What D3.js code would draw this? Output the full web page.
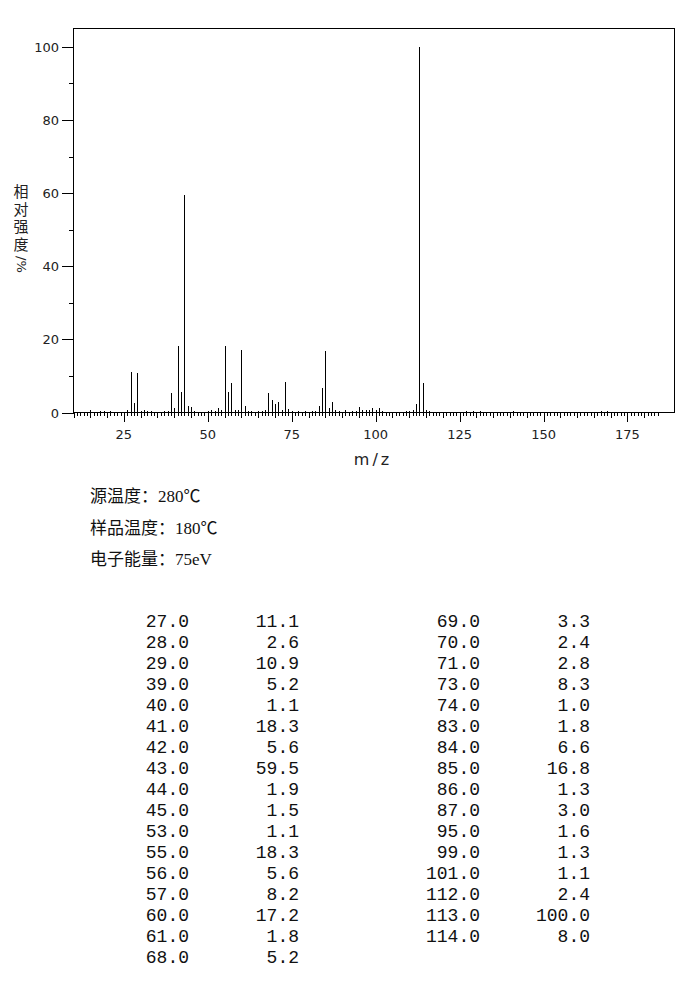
<!DOCTYPE html>
<html>
<head>
<meta charset="utf-8">
<script src="https://cdn.jsdelivr.net/npm/d3@7"></script>
<style>
  body { margin: 0; background: #fff; }
  svg { display: block; }
</style>
</head>
<body>
<div id="chart"></div>
<script>
// peaks listed in the table (m/z, relative intensity %)
var mzValues = [27, 28, 29, 39, 40, 41, 42, 43, 44, 45, 53, 55, 56, 57, 60, 61, 68,
                69, 70, 71, 73, 74, 83, 84, 85, 86, 87, 95, 99, 101, 112, 113, 114];
var intensities = [11.1, 2.6, 10.9, 5.2, 1.1, 18.3, 5.6, 59.5, 1.9, 1.5, 1.1, 18.3, 5.6, 8.2, 17.2, 1.8, 5.2,
                   3.3, 2.4, 2.8, 8.3, 1.0, 1.8, 6.6, 16.8, 1.3, 3.0, 1.6, 1.3, 1.1, 2.4, 100.0, 8.0];

// small peaks (< 1%) seen in the spectrum but not in the table
var minorMz = [15, 18, 19, 21, 26, 30, 31, 32, 33, 37, 38, 46, 50, 51, 52, 54, 58, 59, 62, 63, 65, 66, 67,
               72, 75, 77, 79, 81, 82, 88, 89, 91, 93, 94, 96, 97, 98, 100, 102, 109, 110, 111, 115, 116,
               127, 129, 131, 141, 167, 169];
var minorIntensities = [0.6, 0.5, 0.4, 0.3, 0.8, 0.4, 0.6, 0.4, 0.3, 0.4, 0.5, 0.3, 0.4, 0.6, 0.5, 0.6, 0.8, 0.7, 0.5, 0.3, 0.4, 0.3, 0.8,
                        0.6, 0.5, 0.4, 0.4, 0.5, 0.5, 0.7, 0.4, 0.6, 0.5, 0.5, 0.6, 0.8, 0.6, 0.7, 0.4, 0.4, 0.5, 0.7, 0.7, 0.3,
                        0.4, 0.5, 0.4, 0.4, 0.3, 0.3];

var xTickLabels = [25, 50, 75, 100, 125, 150, 175];
var yTickLabels = [0, 20, 40, 60, 80, 100];

var yTitle = "相对强度";
var yTitleUnit = "/%";
var infoLines = ["源温度：280℃", "样品温度：180℃", "电子能量：75eV"];

var w = 696, h = 992;
var svg = d3.select("#chart").append("svg")
    .attr("width", w)
    .attr("height", h);

var x = d3.scaleLinear().domain([10, 189]).range([73.5, 674.5]);
var y = d3.scaleLinear().domain([0, 105]).range([412.5, 28.5]);

var plot = svg.append("g").attr("shape-rendering", "crispEdges");

// frame
plot.append("rect")
    .attr("x", x(10))
    .attr("y", y(105))
    .attr("width", x(189) - x(10))
    .attr("height", y(0) - y(105))
    .attr("fill", "none")
    .attr("stroke", "#000")
    .attr("stroke-width", 1);

// x ticks, every 1 unit
var xTicks = d3.range(10, 185);
plot.selectAll("line.xtick")
    .data(xTicks)
    .enter()
    .append("line")
    .attr("class", "xtick")
    .attr("x1", function(d) { return Math.round(x(d)) + 0.5; })
    .attr("x2", function(d) { return Math.round(x(d)) + 0.5; })
    .attr("y1", y(0))
    .attr("y2", function(d) {
        if (d % 25 == 0) return y(0) + 9;
        if (d % 5 == 0) return y(0) + 5;
        return y(0) + 3;
    })
    .attr("stroke", "#000");

// y ticks, every 10
plot.selectAll("line.ytick")
    .data(d3.range(0, 101, 10))
    .enter()
    .append("line")
    .attr("class", "ytick")
    .attr("x1", x(10))
    .attr("x2", function(d) { return d % 20 == 0 ? x(10) - 12 : x(10) - 5; })
    .attr("y1", function(d) { return Math.round(y(d)) + 0.5; })
    .attr("y2", function(d) { return Math.round(y(d)) + 0.5; })
    .attr("stroke", "#000");

// peaks
var peaks = mzValues.map(function(d, i) { return { mz: d, v: intensities[i] }; })
    .concat(minorMz.map(function(d, i) { return { mz: d, v: minorIntensities[i] }; }));

plot.selectAll("line.peak")
    .data(peaks)
    .enter()
    .append("line")
    .attr("class", "peak")
    .attr("x1", function(d) { return Math.round(x(d.mz)) + 0.5; })
    .attr("x2", function(d) { return Math.round(x(d.mz)) + 0.5; })
    .attr("y1", y(0))
    .attr("y2", function(d) { return y(d.v); })
    .attr("stroke", "#000");

// tick labels
svg.selectAll("text.xlab")
    .data(xTickLabels)
    .enter()
    .append("text")
    .attr("class", "xlab")
    .attr("x", function(d) { return x(d); })
    .attr("y", 439)
    .attr("text-anchor", "middle")
    .attr("font-family", "DejaVu Sans")
    .attr("font-size", "13px")
    .attr("fill", "#222")
    .text(function(d) { return d; });

svg.selectAll("text.ylab")
    .data(yTickLabels)
    .enter()
    .append("text")
    .attr("class", "ylab")
    .attr("x", 59)
    .attr("y", function(d) { return y(d) + 5; })
    .attr("text-anchor", "end")
    .attr("font-family", "DejaVu Sans")
    .attr("font-size", "13px")
    .attr("fill", "#222")
    .text(function(d) { return d; });

// axis titles
svg.append("text")
    .attr("x", 373)
    .attr("y", 465)
    .attr("text-anchor", "middle")
    .attr("font-family", "DejaVu Sans")
    .attr("font-size", "16px")
    .attr("letter-spacing", "3px")
    .attr("fill", "#222")
    .text("m/z");

// y title: vertical CJK text, unit rotated underneath
svg.append("text")
    .attr("x", 21)
    .attr("y", 184)
    .attr("style", "writing-mode: vertical-rl;")
    .attr("font-family", "Noto Sans CJK SC")
    .attr("font-size", "15px")
    .attr("letter-spacing", "2.5px")
    .attr("fill", "#222")
    .text(yTitle);

svg.append("text")
    .attr("transform", "translate(17,256) rotate(90)")
    .attr("font-family", "DejaVu Sans")
    .attr("font-size", "13px")
    .attr("fill", "#222")
    .text(yTitleUnit);

// instrument info
svg.selectAll("text.info")
    .data(infoLines)
    .enter()
    .append("text")
    .attr("class", "info")
    .attr("x", 90)
    .attr("y", function(d, i) { return 502 + i * 31.5; })
    .attr("font-family", "'Liberation Serif', 'Noto Sans CJK SC'")
    .attr("font-size", "17px")
    .attr("fill", "#111")
    .text(function(d) { return d; });

// peak table, two blocks
var leftRows = 17;
var colX = [189, 299, 480, 590];
var table = svg.append("g")
    .attr("font-family", "Liberation Mono")
    .attr("font-size", "18px")
    .attr("fill", "#111")
    .attr("text-anchor", "end");

mzValues.forEach(function(d, i) {
    var block = i < leftRows ? 0 : 1;
    var row = block == 0 ? i : i - leftRows;
    var ty = 627 + row * 21;
    table.append("text")
        .attr("x", colX[block * 2])
        .attr("y", ty)
        .text(d3.format(".1f")(d));
    table.append("text")
        .attr("x", colX[block * 2 + 1])
        .attr("y", ty)
        .text(d3.format(".1f")(intensities[i]));
});
</script>
</body>
</html>
